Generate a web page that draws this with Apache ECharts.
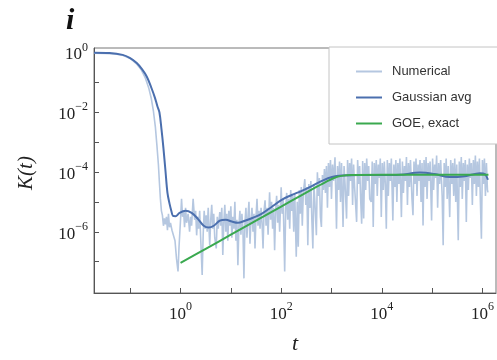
<!DOCTYPE html>
<html>
<head>
<meta charset="utf-8">
<script src="https://cdn.jsdelivr.net/npm/echarts@6/dist/echarts.min.js"></script>
<style>
  html, body { margin: 0; padding: 0; background: #fff; }
  #chart { width: 497px; height: 360px; }
</style>
</head>
<body>
<div id="chart"></div>
<script>
// Spectral form factor K(t) on log-log axes; values are stored as log10 exponents.

// Numerical K(t): log10 t and log10 K
const numLogT = [
  -1.72, -1.50, -1.30, -1.15, -1.00, -0.88, -0.78, -0.70, -0.63, -0.58, -0.54, -0.50, -0.47, -0.44, -0.42, -0.40,
  -0.38, -0.36, -0.34, -0.32, -0.30, -0.28, -0.26, -0.24, -0.22, -0.20, -0.17, -0.14, -0.11, -0.08, -0.05, -0.03,
  0.00, 0.02, 0.04, 0.06, 0.08, 0.10, 0.12, 0.15, 0.18, 0.20, 0.22, 0.25, 0.28, 0.30, 0.32, 0.34,
  0.36, 0.38, 0.40, 0.43, 0.45, 0.47, 0.49, 0.51, 0.53, 0.55, 0.58, 0.60, 0.62, 0.64, 0.66, 0.68,
  0.71, 0.73, 0.75, 0.78, 0.80, 0.82, 0.84, 0.86, 0.88, 0.90, 0.92, 0.94, 0.96, 0.98, 1.00, 1.02,
  1.04, 1.06, 1.08, 1.10, 1.12, 1.14, 1.16, 1.18, 1.20, 1.22, 1.24, 1.26, 1.28, 1.30, 1.32, 1.34,
  1.36, 1.38, 1.40, 1.42, 1.44, 1.46, 1.48, 1.50, 1.52, 1.54, 1.56, 1.58, 1.60, 1.62, 1.64, 1.66,
  1.68, 1.70, 1.72, 1.74, 1.77, 1.79, 1.81, 1.83, 1.85, 1.87, 1.89, 1.91, 1.93, 1.95, 1.97, 2.00,
  2.02, 2.04, 2.07, 2.09, 2.11, 2.13, 2.15, 2.17, 2.19, 2.21, 2.23, 2.25, 2.27, 2.30, 2.32, 2.34,
  2.36, 2.38, 2.40, 2.42, 2.44, 2.47, 2.49, 2.51, 2.53, 2.55, 2.57, 2.59, 2.61, 2.63, 2.65, 2.67,
  2.70, 2.72, 2.74, 2.76, 2.78, 2.80, 2.82, 2.84, 2.86, 2.88, 2.90, 2.92, 2.94, 2.96, 2.98, 3.00,
  3.02, 3.04, 3.07, 3.10, 3.12, 3.14, 3.16, 3.18, 3.20, 3.23, 3.25, 3.27, 3.30, 3.32, 3.34, 3.36,
  3.38, 3.40, 3.42, 3.44, 3.46, 3.50, 3.52, 3.54, 3.56, 3.58, 3.60, 3.62, 3.64, 3.66, 3.68, 3.70,
  3.72, 3.74, 3.76, 3.79, 3.81, 3.83, 3.85, 3.87, 3.89, 3.91, 3.93, 3.95, 3.97, 3.99, 4.01, 4.03,
  4.05, 4.07, 4.09, 4.11, 4.13, 4.15, 4.17, 4.19, 4.22, 4.24, 4.26, 4.28, 4.30, 4.32, 4.34, 4.36,
  4.39, 4.41, 4.43, 4.45, 4.47, 4.49, 4.51, 4.53, 4.55, 4.57, 4.60, 4.62, 4.64, 4.66, 4.68, 4.70,
  4.72, 4.74, 4.76, 4.78, 4.80, 4.82, 4.84, 4.86, 4.88, 4.90, 4.92, 4.94, 4.96, 4.99, 5.01, 5.03,
  5.05, 5.07, 5.09, 5.11, 5.13, 5.15, 5.17, 5.20, 5.22, 5.24, 5.26, 5.28, 5.30, 5.32, 5.35, 5.37,
  5.39, 5.41, 5.43, 5.45, 5.47, 5.49, 5.52, 5.54, 5.56, 5.58, 5.60, 5.62, 5.64, 5.66, 5.68, 5.70,
  5.72, 5.74, 5.76, 5.78, 5.80, 5.82, 5.84, 5.86, 5.88, 5.90, 5.92, 5.94, 5.96, 5.98, 6.00, 6.02,
  6.04, 6.06, 6.08, 6.10, 6.11
];
const numLogK = [
  -0.02, -0.03, -0.05, -0.09, -0.20, -0.37, -0.58, -0.85, -1.20, -1.55, -1.95, -2.50, -3.10, -3.75, -4.35, -4.90,
  -5.30, -5.45, -5.80, -5.55, -5.75, -5.50, -5.95, -5.40, -5.85, -5.70, -5.95, -5.90, -6.30, -6.90, -7.33, -6.50,
  -5.60, -4.90, -5.50, -5.30, -5.85, -5.20, -5.70, -5.40, -6.00, -5.50, -5.80, -4.90, -5.60, -5.30, -6.12, -5.50,
  -5.90, -5.30, -6.20, -7.45, -6.10, -5.30, -5.90, -5.45, -6.00, -5.20, -6.45, -5.60, -5.10, -5.90, -5.40, -6.20,
  -6.56, -5.50, -5.90, -5.34, -5.80, -5.20, -6.78, -5.70, -5.10, -6.00, -5.40, -6.30, -5.30, -5.80, -5.15, -6.20,
  -5.50, -5.90, -5.00, -6.30, -5.60, -7.12, -5.80, -5.30, -6.10, -5.40, -5.90, -7.56, -5.70, -5.20, -6.20, -5.50,
  -5.00, -6.40, -5.60, -5.20, -6.00, -5.40, -6.56, -5.50, -4.90, -5.80, -5.30, -5.90, -5.20, -5.70, -6.56, -5.30,
  -4.95, -5.80, -5.20, -6.10, -4.68, -5.60, -5.00, -5.90, -5.20, -6.62, -5.30, -4.80, -5.70, -5.10, -6.00, -4.51,
  -5.40, -4.90, -7.33, -5.20, -4.70, -5.60, -4.90, -5.90, -4.60, -5.30, -4.80, -6.00, -4.70, -6.84, -5.00, -6.50,
  -4.60, -5.40, -4.50, -5.80, -4.70, -4.24, -5.10, -4.50, -6.45, -4.40, -5.20, -4.30, -5.60, -6.56, -4.40, -5.00,
  -6.12, -4.01, -4.80, -4.20, -5.50, -5.84, -4.10, -4.60, -3.90, -4.70, -3.80, -5.20, -3.70, -4.50, -3.60, -4.90,
  -3.75, -4.30, -3.51, -5.90, -3.80, -4.60, -3.65, -5.00, -3.70, -5.84, -3.80, -4.40, -5.56, -3.60, -4.80, -3.70,
  -4.30, -3.55, -5.10, -3.75, -4.50, -5.67, -3.60, -4.40, -3.80, -4.90, -5.73, -3.63, -5.56, -3.70, -4.60, -3.55,
  -4.30, -3.80, -4.90, -5.00, -3.65, -5.84, -3.70, -4.40, -3.60, -4.80, -3.75, -4.20, -3.55, -5.51, -3.70, -4.60,
  -3.65, -4.40, -5.90, -3.60, -4.80, -3.70, -4.30, -3.55, -5.62, -3.75, -4.50, -3.60, -5.00, -3.70, -4.40, -3.55,
  -5.51, -3.65, -4.70, -3.80, -4.30, -3.50, -5.10, -3.70, -4.50, -3.60, -4.90, -5.45, -3.65, -4.40, -3.55, -4.80,
  -3.75, -4.30, -3.60, -5.00, -3.70, -5.79, -3.60, -4.50, -3.50, -4.90, -3.70, -4.30, -3.65, -5.62, -3.55, -4.60,
  -3.75, -4.20, -3.45, -5.20, -3.70, -4.40, -3.60, -4.80, -6.45, -3.70, -4.50, -3.55, -4.90, -3.80, -5.51, -3.60,
  -4.40, -3.70, -4.80, -3.55, -5.00, -3.75, -6.28, -3.65, -4.50, -3.50, -4.90, -3.70, -4.30, -3.60, -5.67, -3.75,
  -4.60, -3.55, -4.20, -3.70, -5.10, -3.60, -4.40, -3.45, -4.80, -3.65, -4.50, -3.55, -5.00, -6.23, -3.60, -4.40,
  -3.55, -4.80, -3.70, -4.60, -4.68
];

// Gaussian-averaged K(t)
const gaussLogT = [
  -1.72, -1.41, -1.15, -1.01, -0.87, -0.77, -0.67, -0.58, -0.51, -0.46, -0.42, -0.38, -0.34, -0.30, -0.26, -0.22,
  -0.18, -0.15, -0.10, -0.02, 0.10, 0.22, 0.34, 0.46, 0.56, 0.66, 0.78, 0.90, 1.02, 1.14, 1.28, 1.44,
  1.61, 1.81, 2.01, 2.21, 2.41, 2.61, 2.81, 3.01, 3.21, 3.56, 3.96, 4.36, 4.76, 5.05, 5.35, 5.65,
  5.95, 6.05, 6.11
];
const gaussLogK = [
  -0.01, -0.02, -0.08, -0.18, -0.35, -0.55, -0.81, -1.18, -1.51, -1.80, -2.00, -2.55, -3.20, -3.95, -4.70, -5.05,
  -5.32, -5.47, -5.48, -5.37, -5.30, -5.37, -5.56, -5.80, -5.86, -5.80, -5.63, -5.60, -5.66, -5.70, -5.63, -5.53,
  -5.40, -5.17, -4.93, -4.77, -4.63, -4.47, -4.30, -4.17, -4.12, -4.10, -4.10, -4.09, -4.02, -4.07, -4.17, -4.14,
  -4.04, -4.07, -4.26
];

// GOE exact form factor
const goeLogT = [0.00, 0.50, 1.00, 1.50, 2.00, 2.40, 2.70, 2.90, 3.05, 3.20, 3.40, 4.00, 5.00, 6.12];
const goeLogK = [-7.04, -6.57, -6.10, -5.63, -5.16, -4.78, -4.50, -4.32, -4.20, -4.13, -4.10, -4.09, -4.09, -4.09];

// Decade ticks and labels (exponents of ten)
const xTickExps = [-1, 0, 1, 2, 3, 4, 5, 6];
const xLabelExps = [0, 2, 4, 6];
const yTickExps = [-7, -6, -5, -4, -3, -2, -1, 0];
const yLabelExps = [-6, -4, -2, 0];

const seriesNames = ['Numerical', 'Gaussian avg', 'GOE, exact'];

const zip = (a, b) => a.map((v, i) => [v, b[i]]);
const expText = e => (e < 0 ? '\u2212' + (-e) : String(e));
const serif = '"Liberation Serif", "DejaVu Serif", serif';

const richPow = {
  b: { fontFamily: serif, fontSize: 17, color: '#222', verticalAlign: 'bottom', lineHeight: 22 },
  s: { fontFamily: serif, fontSize: 12, color: '#222', verticalAlign: 'top', lineHeight: 22 }
};

const chart = echarts.init(document.getElementById('chart'), null, { renderer: 'canvas' });
chart.setOption({
  animation: false,
  backgroundColor: '#fff',
  grid: { left: 94, top: 48, right: 1, bottom: 65, show: true, borderColor: '#777', borderWidth: 1 },
  legend: {
    orient: 'vertical',
    left: 329, top: 47,
    padding: [18, 34, 14, 27],
    backgroundColor: '#fff',
    borderColor: '#c4c4c4', borderWidth: 1,
    icon: 'rect', itemWidth: 26, itemHeight: 2, itemGap: 13,
    textStyle: { fontFamily: '"Liberation Sans", Arial, sans-serif', fontSize: 13, color: '#333', padding: [0, 0, 0, 5] },
    data: seriesNames
  },
  xAxis: {
    type: 'value', min: -1.72, max: 6.27,
    splitLine: { show: false },
    axisLine: { onZero: false, lineStyle: { color: '#555', width: 1 } },
    axisTick: { inside: true, length: 5, lineStyle: { color: '#555' }, customValues: xTickExps },
    axisLabel: {
      customValues: xLabelExps, margin: 8,
      formatter: v => '{b|10}{s|' + expText(v) + '}', rich: richPow
    },
    name: 't', nameLocation: 'middle', nameGap: 40,
    nameTextStyle: { fontFamily: serif, fontStyle: 'italic', fontSize: 22, color: '#222' }
  },
  yAxis: {
    type: 'value', min: -8.05, max: 0.15,
    splitLine: { show: false },
    axisLine: { onZero: false, lineStyle: { color: '#555', width: 1 } },
    axisTick: { inside: true, length: 5, lineStyle: { color: '#555' }, customValues: yTickExps },
    axisLabel: {
      customValues: yLabelExps, margin: 6,
      formatter: v => '{b|10}{s|' + expText(v) + '}', rich: richPow
    }
  },
  graphic: [
    { type: 'text', left: 66, top: 6,
      style: { text: 'i', font: 'italic bold 30px ' + serif, fill: '#111' } },
    { type: 'text', x: 26, y: 173, rotation: Math.PI / 2,
      style: { text: 'K(t)', font: 'italic 21px ' + serif, fill: '#222',
               textAlign: 'center', textVerticalAlign: 'middle', verticalAlign: 'middle' } }
  ],
  series: [
    { name: seriesNames[0], type: 'line', data: zip(numLogT, numLogK), showSymbol: false, symbol: 'none',
      lineStyle: { color: '#b5c7e0', width: 1.6 }, itemStyle: { color: '#b5c7e0' }, z: 1 },
    { name: seriesNames[1], type: 'line', data: zip(gaussLogT, gaussLogK), showSymbol: false, symbol: 'none', smooth: 0.35,
      lineStyle: { color: '#4b6fae', width: 2 }, itemStyle: { color: '#4b6fae' }, z: 2 },
    { name: seriesNames[2], type: 'line', data: zip(goeLogT, goeLogK), showSymbol: false, symbol: 'none', smooth: 0.3,
      lineStyle: { color: '#3aa94f', width: 2 }, itemStyle: { color: '#3aa94f' }, z: 3 }
  ]
});
</script>
</body>
</html>
